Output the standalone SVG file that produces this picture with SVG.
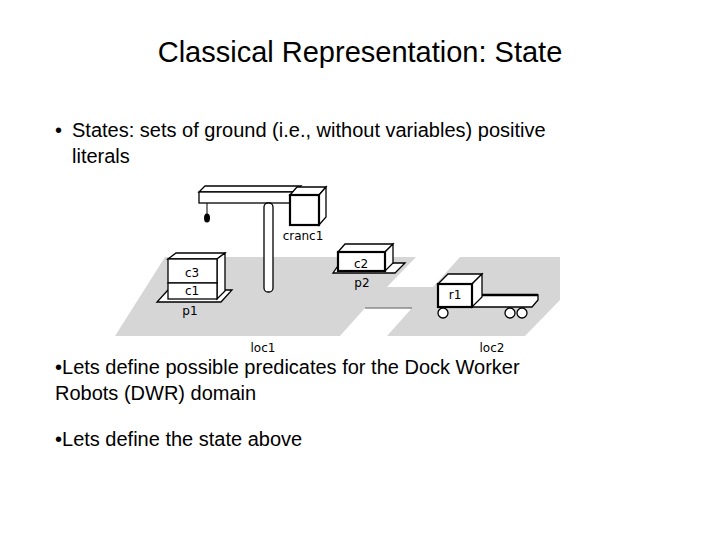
<svg xmlns="http://www.w3.org/2000/svg" width="720" height="540" viewBox="0 0 720 540">
<style>
text{font-family:"Liberation Sans",Arial,sans-serif;fill:#000}
.t{font-size:20px}
.l{font-size:12px;font-family:"DejaVu Sans",sans-serif}
.b{fill:#fff;stroke:#000;stroke-width:1.3}
.bk{fill:#fff;stroke:#000;stroke-width:2.2}
</style>
<rect width="720" height="540" fill="#fff"/>
<text x="360" y="62" font-size="29" text-anchor="middle">Classical Representation: State</text>
<text x="55" y="137" class="t">•</text>
<text x="72" y="137" class="t">States: sets of ground (i.e., without variables) positive</text>
<text x="72" y="163" class="t">literals</text>
<g id="ground">
<polygon points="165,257 416,257 387,287 433,287 460,257 560,257 560,300 525,336 387,336 412,308 365,308 340,336 115,336" fill="#d6d6d6"/>
<line x1="365" y1="308" x2="412" y2="308" stroke="#888" stroke-width="1.5"/>
</g>
<g id="crane1">
<polygon points="199,192 205,186 301,186 295,192" class="b"/>
<rect x="199" y="192" width="96" height="11" class="b"/>
<rect x="264" y="203" width="9" height="89" rx="4" class="b"/>
<line x1="207" y1="203" x2="207" y2="214" stroke="#000"/>
<ellipse cx="207" cy="218" rx="3" ry="4.5" fill="#000"/>
<polygon points="290,195 297,187 326,187 319,195" class="b"/>
<polygon points="319,195 326,187 326,217 319,225" class="b"/>
<rect x="290" y="195" width="29" height="30" class="bk"/>
<text x="303" y="240" class="l" text-anchor="middle">cranc1</text>
</g>
<g id="p1">
<polygon points="168,290 232,290 221,302 157,302" class="b"/>
<text x="190" y="315" class="l" text-anchor="middle">p1</text>
</g>
<g id="c1c3">
<polygon points="168,259 176,253 225,253 217,259" class="b"/>
<polygon points="217,259 225,253 225,291 217,299" class="b"/>
<rect x="168" y="259" width="49" height="24" class="b"/>
<rect x="168" y="283" width="49" height="16" class="b"/>
<text x="192" y="277" class="l" text-anchor="middle">c3</text>
<text x="192" y="295" class="l" text-anchor="middle">c1</text>
</g>
<g id="p2">
<polygon points="340,263 405,263 395,273 333,273" class="b"/>
<text x="362" y="287" class="l" text-anchor="middle">p2</text>
</g>
<g id="c2">
<polygon points="338,252 345,244 393,244 385,252" class="b"/>
<polygon points="385,252 393,244 393,263 385,271" class="b"/>
<rect x="338" y="252" width="47" height="19" class="bk"/>
<text x="361" y="268" class="l" text-anchor="middle">c2</text>
</g>
<g id="r1">
<polygon points="472,295 538,295 538,300 532,307 472,307" class="b"/>
<line x1="472" y1="295" x2="538" y2="295" stroke="#000" stroke-width="2.5"/>
<polygon points="438,284 448,274 482,274 472,284" class="b"/>
<polygon points="472,284 482,274 482,297 472,307" class="b"/>
<rect x="438" y="284" width="34" height="23" class="bk"/>
<text x="455" y="299" class="l" text-anchor="middle">r1</text>
<circle cx="443" cy="313" r="5" class="b"/>
<circle cx="510" cy="313" r="5" class="b"/>
<circle cx="522" cy="313" r="5" class="b"/>
</g>
<text x="263" y="352" class="l" text-anchor="middle">loc1</text>
<text x="492" y="352" class="l" text-anchor="middle">loc2</text>
<text x="55" y="374" class="t">•Lets define possible predicates for the Dock Worker</text>
<text x="55" y="400" class="t">Robots (DWR) domain</text>
<text x="55" y="446" class="t">•Lets define the state above</text>
</svg>
